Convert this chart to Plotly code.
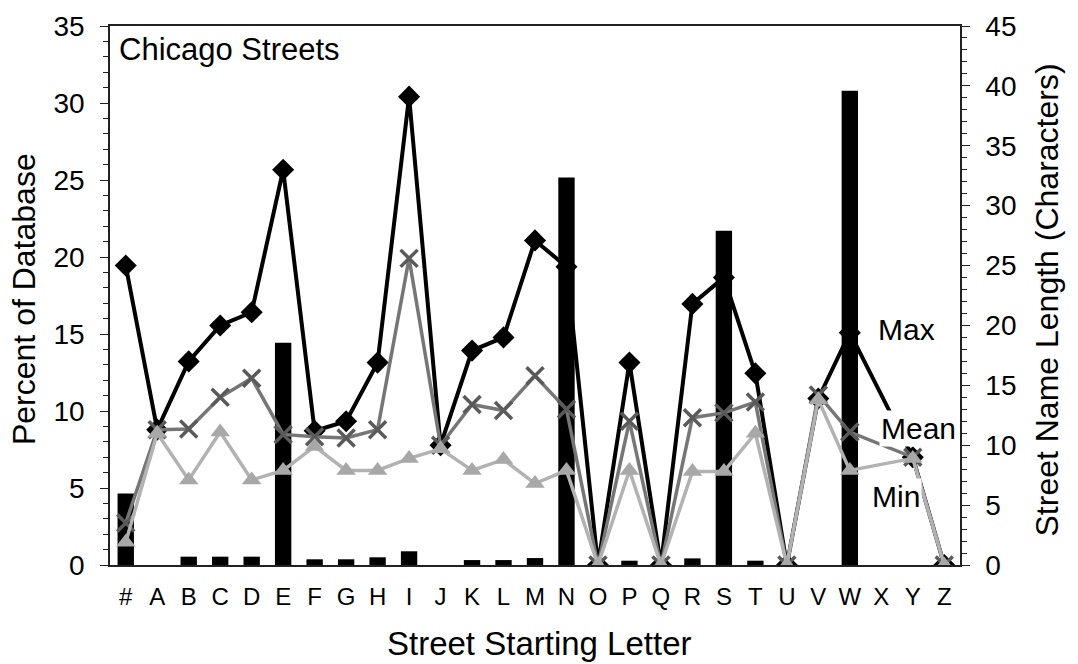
import plotly.graph_objects as go

# Starting letters of Chicago street names
letters = ["#", "A", "B", "C", "D", "E", "F", "G", "H", "I", "J", "K", "L", "M",
           "N", "O", "P", "Q", "R", "S", "T", "U", "V", "W", "X", "Y", "Z"]

# Share of the street database per starting letter (%)
pct_database = [4.65, 0, 0.54, 0.54, 0.54, 14.43, 0.37, 0.37, 0.5, 0.89, 0, 0.32, 0.32, 0.45,
                25.17, 0, 0.28, 0, 0.43, 21.7, 0.28, 0, 0, 30.8, 0, 0, 0]

# Street name length statistics (characters); X has no streets
len_max = [25.0, 11.3, 17.0, 20.0, 21.1, 33.0, 11.2, 12.0, 16.9, 39.1, 10.0, 17.9, 19.0, 27.1,
           24.9, 0, 16.9, 0, 21.8, 24.0, 16.0, 0, 13.9, 19.4, None, 9.0, 0]
len_mean = [3.5, 11.3, 11.35, 14.0, 15.6, 10.9, 10.7, 10.6, 11.3, 25.6, 10.0, 13.4, 12.9, 15.8,
            13.0, 0, 12.0, 0, 12.3, 12.7, 13.6, 0, 14.2, 11.1, None, 9.0, 0]
len_min = [1.9, 11.0, 7.1, 11.1, 7.1, 7.9, 9.9, 7.9, 7.9, 8.9, 9.7, 7.9, 8.8, 6.8,
           7.9, 0, 7.9, 0, 7.8, 7.8, 11.0, 0, 13.8, 7.9, None, 8.9, 0]

FONT = "Liberation Sans, Arial, Helvetica, sans-serif"
AXIS_COLOR = "#222222"

fig = go.Figure()

# Max length sits beneath the bars (main subplot)
fig.add_trace(go.Scatter(
    x=letters, y=len_max, name="Max", yaxis="y", connectgaps=True,
    mode="lines+markers",
    line=dict(color="black", width=4),
    marker=dict(symbol="diamond", size=17, color="black"),
))

# Percent of database bars
fig.add_trace(go.Bar(
    x=letters, y=pct_database, name="Percent", yaxis="y2",
    marker=dict(color="black", line=dict(width=0)), width=0.52,
))

# Mean and Min lengths drawn over the bars
fig.add_trace(go.Scatter(
    x=letters, y=len_mean, name="Mean", yaxis="y3", connectgaps=True,
    mode="lines+markers",
    line=dict(color="#767676", width=3.5),
    marker=dict(symbol="x-thin", size=17, color="#5a5a5a",
                line=dict(color="#5a5a5a", width=3.5)),
))
fig.add_trace(go.Scatter(
    x=letters, y=len_min, name="Min", yaxis="y3", connectgaps=True,
    mode="lines+markers",
    line=dict(color="#b2b2b2", width=3.5),
    marker=dict(symbol="triangle-up", size=17, color="#a8a8a8"),
))

tick_font = dict(family=FONT, size=28, color="black")

fig.update_layout(
    width=1078, height=664,
    margin=dict(l=110, r=118, t=26, b=99),
    paper_bgcolor="white", plot_bgcolor="white",
    showlegend=False,
    bargap=0.48,
    font=dict(family=FONT, color="black"),
    xaxis=dict(
        type="category", categoryorder="array", categoryarray=letters,
        range=[-0.5, 26.5],
        showgrid=False, zeroline=False,
        showline=True, linecolor=AXIS_COLOR, linewidth=1.5, mirror=True,
        ticks="", tickfont=dict(family=FONT, size=24, color="black"),
        ticklabelstandoff=9,
    ),
    yaxis=dict(
        side="right", range=[0, 45], dtick=5, tick0=0,
        showgrid=False, zeroline=False,
        showline=True, linecolor=AXIS_COLOR, linewidth=1.5,
        ticks="outside", ticklen=8, tickwidth=1.2, tickcolor=AXIS_COLOR,
        minor=dict(dtick=1, ticks="outside", ticklen=5, tickwidth=1, tickcolor=AXIS_COLOR),
        tickfont=tick_font, ticklabelstandoff=10,
    ),
    yaxis2=dict(
        overlaying="y", side="left", range=[0, 35], dtick=5, tick0=0,
        showgrid=False, zeroline=False,
        showline=True, linecolor=AXIS_COLOR, linewidth=1.5,
        ticks="outside", ticklen=8, tickwidth=1.2, tickcolor=AXIS_COLOR,
        minor=dict(dtick=1, ticks="outside", ticklen=5, tickwidth=1, tickcolor=AXIS_COLOR),
        tickfont=tick_font, ticklabelstandoff=10,
    ),
    yaxis3=dict(
        overlaying="y", range=[0, 45], visible=False,
    ),
)

annotations = [
    # chart title inside the frame
    dict(text="Chicago Streets", x=0.008, y=0.957, xanchor="left", yanchor="middle",
         font=dict(size=31)),
    # axis titles
    dict(text="Percent of Database", x=-0.102, y=0.494, textangle=-90,
         xanchor="center", yanchor="middle", font=dict(size=32)),
    dict(text="Street Name Length (Characters)", x=1.102, y=0.492, textangle=-90,
         xanchor="center", yanchor="middle", font=dict(size=32)),
    dict(text="Street Starting Letter", x=0.505, y=-0.145,
         xanchor="center", yanchor="middle", font=dict(size=33)),
    # series labels with opaque backgrounds
    dict(text="Max", x=0.9365, y=0.436, xanchor="center", yanchor="middle",
         font=dict(size=30), bgcolor="white"),
    dict(text="Mean", x=0.951, y=0.253, xanchor="center", yanchor="middle",
         font=dict(size=30), bgcolor="white"),
    dict(text="Min", x=0.9247, y=0.128, xanchor="center", yanchor="middle",
         font=dict(size=30), bgcolor="white"),
]
for a in annotations:
    a.update(xref="paper", yref="paper", showarrow=False)
    a["font"] = dict(family=FONT, color="black", size=a["font"]["size"])
fig.update_layout(annotations=annotations)

fig.write_html("out.html")
